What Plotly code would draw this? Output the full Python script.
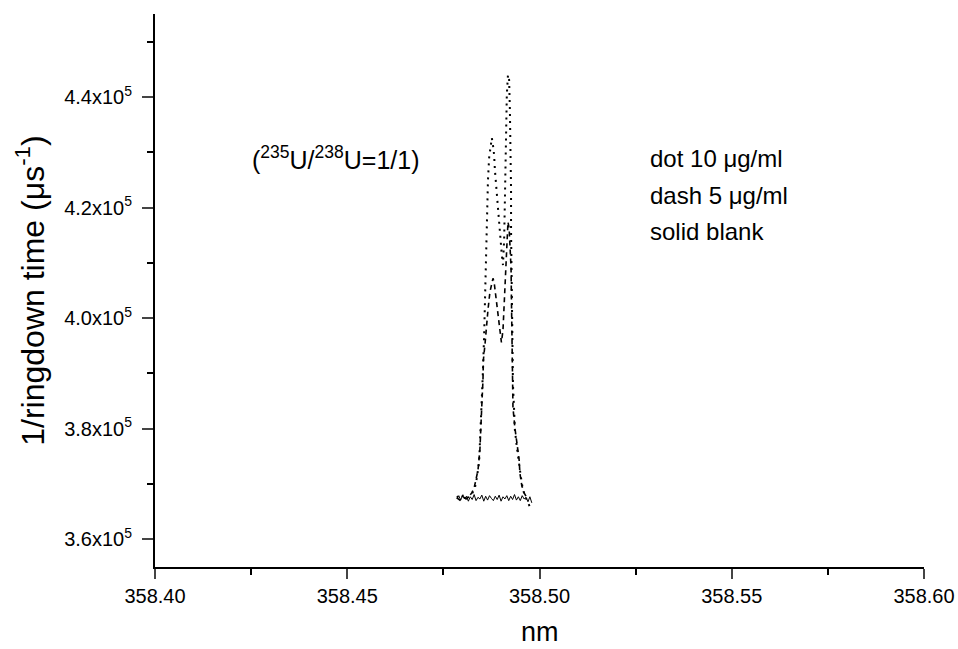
import plotly.graph_objects as go

# ---- data ----
# 10 ug/ml (dotted)
dot_x = [358.4785, 358.4793, 358.4801, 358.4809, 358.4817, 358.4824, 358.4832, 358.4837,
         358.4843, 358.4845, 358.4848, 358.4850, 358.4853, 358.4856, 358.4858, 358.4859,
         358.4861, 358.4863, 358.4866, 358.4869, 358.4874, 358.4876, 358.4879, 358.4882,
         358.4884, 358.4887, 358.4889, 358.4895, 358.4897, 358.4902, 358.4905, 358.4908,
         358.4910, 358.4912, 358.4913, 358.4915, 358.4918, 358.4921, 358.4923, 358.4925,
         358.4926, 358.4926, 358.4927, 358.4928, 358.4930, 358.4931, 358.4934, 358.4936,
         358.4942, 358.4947, 358.4952, 358.4957, 358.4962, 358.4967, 358.4973, 358.4978]
dot_y = [367800, 367300, 367900, 367400, 367700, 368200, 369300, 371100,
         374000, 377000, 380700, 385200, 390600, 396900, 403300, 408700,
         414100, 419600, 425000, 429000, 431700, 432600, 431300, 429500,
         426800, 424100, 421400, 417700, 415000, 411400, 409600, 414100,
         421400, 428600, 434900, 440400, 444000, 443100, 437600, 430400,
         423200, 415900, 408700, 401500, 394200, 387900, 383400, 379800,
         376200, 373400, 371100, 368900, 367800, 367100, 366200, 365300]

# 5 ug/ml (dashed)
dash_x = [358.4785, 358.4793, 358.4801, 358.4809, 358.4817, 358.4824, 358.4830, 358.4835,
          358.4840, 358.4845, 358.4848, 358.4850, 358.4853, 358.4854, 358.4858, 358.4861,
          358.4866, 358.4871, 358.4876, 358.4879, 358.4882, 358.4887, 358.4892, 358.4897,
          358.4901, 358.4905, 358.4908, 358.4910, 358.4913, 358.4915, 358.4918, 358.4921,
          358.4923, 358.4926, 358.4927, 358.4928, 358.4928, 358.4930, 358.4931, 358.4936,
          358.4942, 358.4947, 358.4949, 358.4954, 358.4960, 358.4965, 358.4970]
dash_y = [367500, 367100, 367700, 367300, 367800, 368400, 369300, 370700,
          372500, 376200, 379800, 384300, 388800, 392400, 395100, 397800,
          401500, 404700, 406500, 407200, 406500, 403600, 400000, 396900,
          395600, 397800, 402300, 406900, 411400, 415000, 417400, 416300,
          412700, 409100, 403600, 398300, 392800, 387400, 383800, 380200,
          377400, 374400, 372000, 369700, 368400, 367800, 367500]

# blank (solid)
blank_x = [358.4785, 358.4790, 358.4795, 358.4800, 358.4805, 358.4810, 358.4815, 358.4820,
           358.4825, 358.4830, 358.4835, 358.4840, 358.4845, 358.4850, 358.4855, 358.4860,
           358.4865, 358.4870, 358.4875, 358.4880, 358.4885, 358.4890, 358.4895, 358.4900,
           358.4905, 358.4910, 358.4915, 358.4920, 358.4925, 358.4930, 358.4935, 358.4940,
           358.4945, 358.4950, 358.4955, 358.4960, 358.4965, 358.4970, 358.4975, 358.4980]
blank_y = [367400, 367900, 367100, 368000, 367300, 367800, 366900, 367700,
           367200, 368100, 367000, 367600, 367300, 368000, 366900, 367800,
           367100, 367900, 367400, 367000, 367800, 367200, 368000, 366900,
           367700, 367300, 367900, 367000, 367800, 367200, 368100, 367100,
           367700, 367000, 367900, 367300, 367600, 366800, 367700, 366600]

y_tickvals = [360000, 380000, 400000, 420000, 440000]
y_ticktext = ["3.6x10<sup>5</sup>", "3.8x10<sup>5</sup>", "4.0x10<sup>5</sup>",
              "4.2x10<sup>5</sup>", "4.4x10<sup>5</sup>"]
y_minor = [370000, 390000, 410000, 430000, 450000]
x_tickvals = [358.40, 358.45, 358.50, 358.55, 358.60]
x_ticktext = ["358.40", "358.45", "358.50", "358.55", "358.60"]
x_minor = [358.425, 358.475, 358.525, 358.575]

legend_lines = ["dot 10 μg/ml", "dash 5 μg/ml", "solid blank"]
legend_y = [428960, 422270, 415580]

FONT = "Liberation Sans, Arial, sans-serif"

fig = go.Figure()
fig.add_trace(go.Scatter(x=blank_x, y=blank_y, mode="lines",
                         line=dict(color="black", width=1), showlegend=False))
fig.add_trace(go.Scatter(x=dash_x, y=dash_y, mode="lines",
                         line=dict(color="black", width=1.6, dash="5px,4px"), showlegend=False))
fig.add_trace(go.Scatter(x=dot_x, y=dot_y, mode="lines",
                         line=dict(color="black", width=2, dash="2px,5px"), showlegend=False))

fig.update_layout(
    width=958, height=649,
    margin=dict(l=155, r=34, t=14, b=82),
    paper_bgcolor="white", plot_bgcolor="white",
    font=dict(family=FONT, color="black"),
    xaxis=dict(range=[358.40, 358.60], tickmode="array", tickvals=x_tickvals, ticktext=x_ticktext,
               ticks="outside", ticklen=10, tickwidth=1.5, showline=True, linewidth=2,
               linecolor="black", showgrid=False, zeroline=False, automargin=False,
               tickfont=dict(size=20, family=FONT),
               minor=dict(tickmode="array", tickvals=x_minor, ticks="outside", ticklen=6,
                          tickwidth=1.5, tickcolor="black")),
    yaxis=dict(range=[355000, 455000], tickmode="array", tickvals=y_tickvals, ticktext=y_ticktext,
               ticks="outside", ticklen=11, tickwidth=1.5, showline=True, linewidth=2,
               linecolor="black", showgrid=False, zeroline=False, automargin=False,
               tickfont=dict(size=20, family=FONT), ticklabelstandoff=6,
               minor=dict(tickmode="array", tickvals=y_minor, ticks="outside", ticklen=6,
                          tickwidth=1.5, tickcolor="black"),
               title=dict(text="1/ringdown time (μs<sup>-1</sup>)", font=dict(size=32, family=FONT),
                          standoff=10)),
)

# x-axis title as annotation, kept just inside the bottom edge
fig.add_annotation(x=0.5, y=0, xref="x domain", yref="paper", xanchor="center",
                   yanchor="bottom", yshift=-82, text="nm", showarrow=False,
                   font=dict(size=27, family=FONT))

fig.add_annotation(x=358.4247, y=428960, xref="x", yref="y", xanchor="left", yanchor="middle",
                   text="(<sup>235</sup>U/<sup>238</sup>U=1/1)", showarrow=False,
                   font=dict(size=25, family=FONT))
for t, yv in zip(legend_lines, legend_y):
    fig.add_annotation(x=358.5282, y=yv, xref="x", yref="y",
                       xanchor="left", yanchor="middle", text=t, showarrow=False,
                       font=dict(size=24, family=FONT))

fig.write_html("out.html")
